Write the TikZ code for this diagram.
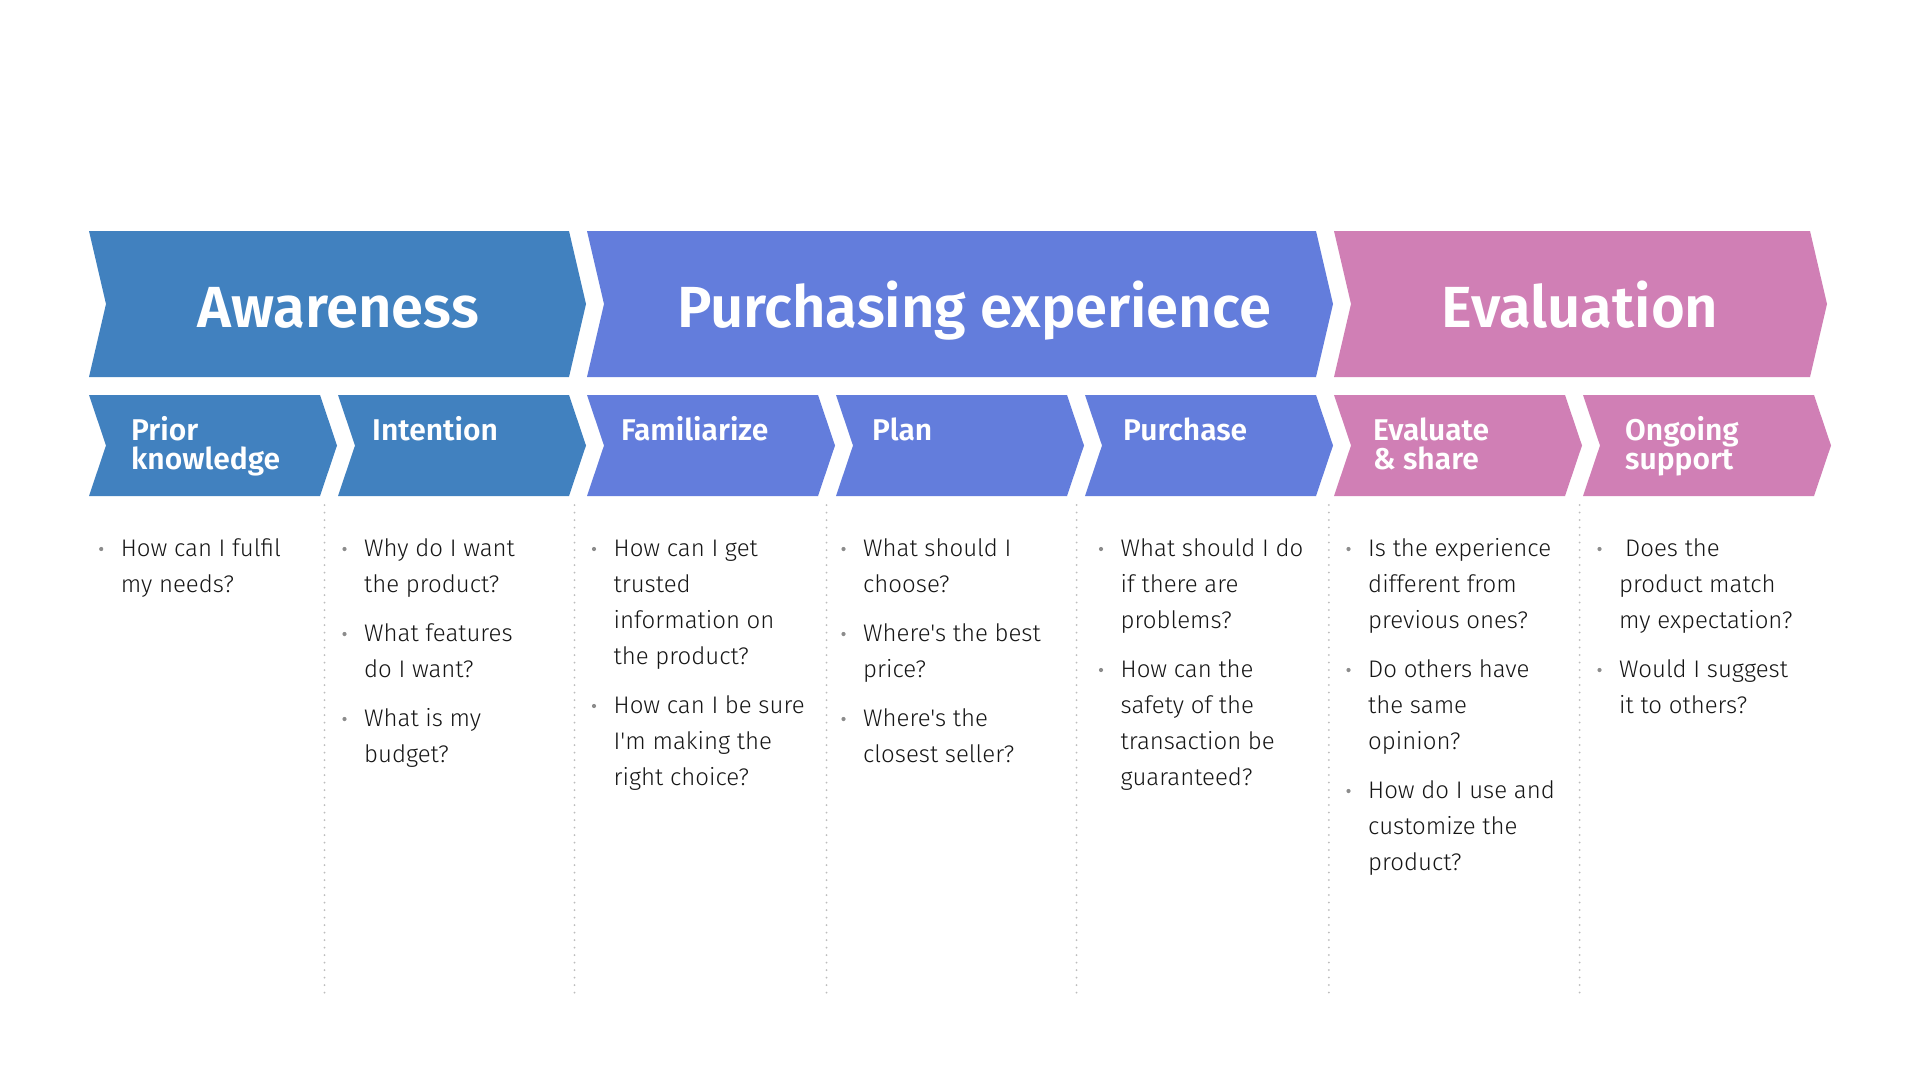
\documentclass[tikz,border=0pt]{standalone}
\usepackage{fontspec}
\newfontfamily\bodyfont{Fira Sans Light}
\newfontfamily\headfont{Fira Sans SemiBold}
\definecolor{awa}{HTML}{4181BF}
\definecolor{pur}{HTML}{637DDC}
\definecolor{eva}{HTML}{D07FB5}
\definecolor{txt}{HTML}{161616}
\definecolor{bulc}{HTML}{8C8C8C}
\definecolor{sepc}{HTML}{BDBDBD}
\tikzset{
  head/.style={text=white, font=\headfont\fontsize{58}{60}\selectfont, inner sep=0pt, anchor=base},
  sub/.style={text=white, font=\headfont\fontsize{30}{29}\selectfont, inner sep=0pt, anchor=north west, align=left},
  body/.style={text=txt, font=\bodyfont\fontsize{24}{36}\selectfont, inner sep=0pt, anchor=north west, align=left},
  sepline/.style={draw=sepc, line width=2pt, dash pattern=on 0pt off 7.5pt, line cap=round},
  bul/.style={fill=bulc},
}
\newcommand\mychev[5]{\fill[#5] (#1,#3) -- (#2,#3) -- (#2+17,{(#3+#4)/2}) -- (#2,#4) -- (#1,#4) -- (#1+17,{(#3+#4)/2}) -- cycle;}
\newcommand\qitem[4]{\fill[bul] (#2-19.5,#3-7.5) circle (2.1);
  \node[body] (#1) at (#2,#3-30) {\rule{0pt}{30pt}#4};}
\begin{document}
\begin{tikzpicture}[x=1pt,y=-1pt]
\useasboundingbox[fill=white] (0,0) rectangle (1920,1080);
% top row
\mychev{89}{569}{231}{377}{awa}
\mychev{587}{1316}{231}{377}{pur}
\mychev{1334}{1810}{231}{377}{eva}
% second row
\mychev{89}{320}{395}{496}{awa}
\mychev{338}{569}{395}{496}{awa}
\mychev{587}{818}{395}{496}{pur}
\mychev{836}{1067}{395}{496}{pur}
\mychev{1085}{1316}{395}{496}{pur}
\mychev{1334}{1565}{395}{496}{eva}
\mychev{1583}{1814}{395}{496}{eva}
% headings
\node[head] (awareness) at (338,327) {Awareness};
\node[head] (purchasing) at (974,327) {Purchasing experience};
\node[head] (evaluation) at (1580,327) {Evaluation};
% sub labels
\node[sub] (prior) at (131,415) {\rule{0pt}{25pt}Prior\\knowledge};
\node[sub] (intention) at (372,415) {\rule{0pt}{25pt}Intention};
\node[sub] (familiarize) at (621,415) {\rule{0pt}{25pt}Familiarize};
\node[sub] (plan) at (872,415) {\rule{0pt}{25pt}Plan};
\node[sub] (purchase) at (1123,415) {\rule{0pt}{25pt}Purchase};
\node[sub] (evalshare) at (1373,415) {\rule{0pt}{25pt}Evaluate\\\& share};
\node[sub] (ongoing) at (1625,415) {\rule{0pt}{25pt}Ongoing\\support};
% separators
\foreach \sx [count=\si] in {324.5,574.5,826.5,1076.5,1328.8,1579.7}
  \draw[sepline] (\sx,505) coordinate (sepa\si) -- (\sx,998) coordinate (sepb\si);
% column 1
\qitem{c1a}{120.7}{556.5}{How can I fulfil\\my needs?}
% column 2
\qitem{c2a}{364}{556.5}{Why do I want\\the product?}
\qitem{c2b}{364}{641.5}{What features\\do I want?}
\qitem{c2c}{364}{726.5}{What is my\\budget?}
% column 3
\qitem{c3a}{613.5}{556.5}{How can I get\\trusted\\information on\\the product?}
\qitem{c3b}{613.5}{713.5}{How can I be sure\\I'm making the\\right choice?}
% column 4
\qitem{c4a}{863}{556.5}{What should I\\choose?}
\qitem{c4b}{863}{641.5}{Where's the best\\price?}
\qitem{c4c}{863}{726.5}{Where's the\\closest seller?}
% column 5
\qitem{c5a}{1120.5}{556.5}{What should I do\\if there are\\problems?}
\qitem{c5b}{1120.5}{677.5}{How can the\\safety of the\\transaction be\\guaranteed?}
% column 6
\qitem{c6a}{1368}{556.5}{Is the experience\\different from\\previous ones?}
\qitem{c6b}{1368}{677.5}{Do others have\\the same\\opinion?}
\qitem{c6c}{1368}{798.5}{How do I use and\\customize the\\product?}
% column 7
\qitem{c7a}{1619}{556.5}{\hspace{6pt}Does the\\product match\\my expectation?}
\qitem{c7b}{1619}{677.5}{Would I suggest\\it to others?}
\end{tikzpicture}
\end{document}
